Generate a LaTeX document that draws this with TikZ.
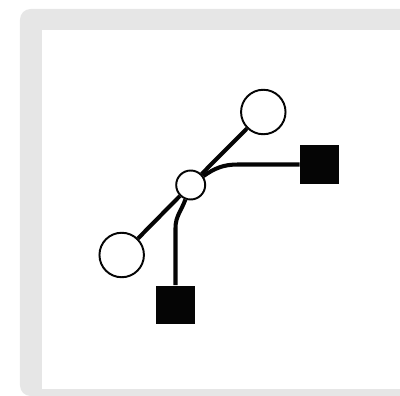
\documentclass[tikz,border=0pt]{standalone}
\usepackage{xcolor}
\usepackage{tikz}
\definecolor{framegray}{RGB}{230, 230, 230}
\definecolor{inkblack}{RGB}{5, 5, 5}

\begin{document}
\begin{tikzpicture}[x=0.02cm,y=0.02cm,
    joint/.style={circle,draw=inkblack,fill=white,line width=1.1pt,inner sep=0pt},
    port/.style={fill=inkblack,minimum size=0.78cm,inner sep=0pt},
    link/.style={draw=inkblack,line width=2.3pt}]
    % Canvas
    \useasboundingbox (0,0) rectangle (400,396);
    \clip (0,0) rectangle (400,396);
    \fill[framegray,rounded corners=6pt] (20,0) rectangle (420,387);
    \fill[white] (42,7) rectangle (420,366);

    % Nodes
    \node[joint,minimum size=0.58cm] (hub) at (190.7,211) {};
    \node[joint,minimum size=0.89cm] (endA) at (121.7,141) {};
    \node[joint,minimum size=0.89cm] (endB) at (263.3,284) {};
    \node[port] (portR) at (319.5,231.5) {};
    \node[port] (portB) at (175.5,91) {};
    \coordinate (bendR) at (238,231.5);
    \coordinate (bendB) at (175.5,168);

    % Links
    \draw[link] (endA) -- (hub);
    \draw[link] (hub) -- (endB);
    \draw[link] (hub) to[out=35,in=180] (bendR) -- (portR.west);
    \draw[link] (hub) to[out=-110,in=90] (bendB) -- (portB.north);
\end{tikzpicture}
\end{document}
